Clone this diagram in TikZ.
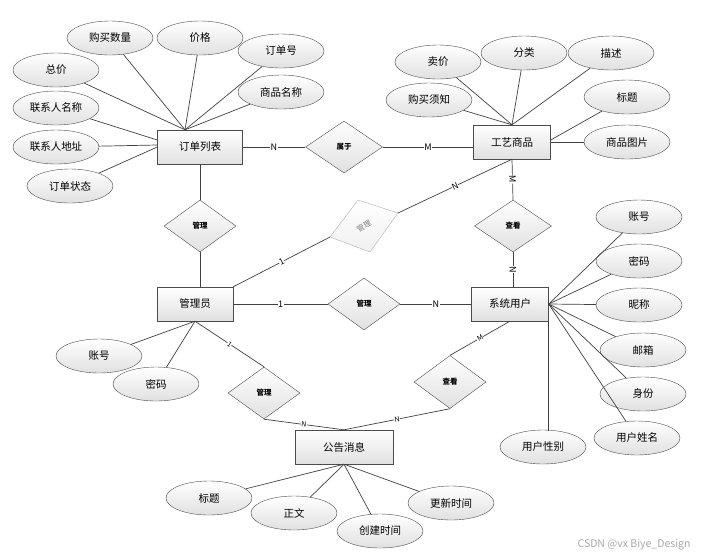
\documentclass[tikz,border=0pt]{standalone}
\usepackage{fontspec}
\setmainfont{Noto Sans CJK SC}
\usetikzlibrary{shapes.geometric}
\tikzset{
  ent/.style={draw=black!70, rectangle, top color=white, bottom color=black!12, minimum width=77pt, minimum height=34pt, inner sep=0pt, font=\fontsize{10.5}{12}\selectfont},
  attr/.style={draw=black!70, ellipse, top color=white, bottom color=black!12, minimum width=86pt, minimum height=34pt, inner sep=0pt, font=\fontsize{10.5}{12}\selectfont},
  rel/.style={draw=black!70, diamond, top color=white, bottom color=black!12, minimum width=72pt, minimum height=52pt, inner sep=0pt, font=\fontsize{7.5}{9}\selectfont\bfseries},
  ln/.style={draw=black!75, line width=0.7pt},
  card/.style={font=\fontsize{9}{10}\selectfont, inner sep=0.5pt, fill=white},
  smallcard/.style={font=\fontsize{7}{8}\selectfont, inner sep=0.3pt, fill=white, sloped}
}
\begin{document}
\begin{tikzpicture}[x=1pt, y=-1pt]
    \useasboundingbox (0,0) rectangle (710,558);

    % entities
    \node[ent, minimum width=85pt] (ddlb) at (200,147) {订单列表};
    \node[ent] (gysp) at (512,142) {工艺商品};
    \node[ent, minimum width=76pt] (gly) at (195,304) {管理员};
    \node[ent] (xtyh) at (510,304) {系统用户};
    \node[ent, minimum width=98pt] (ggxx) at (344,447) {公告消息};

    % relations
    \node[rel, minimum width=77pt] (sy) at (344,147) {属于};
    \node[rel] (gl1) at (200,226) {管理};
    \node[rel, minimum width=77pt] (ck1) at (513,226) {查看};
    \node[rel] (gl2) at (364,304) {管理};
    \node[rel] (gl3) at (264,393) {管理};
    \node[rel, minimum height=53pt] (ck2) at (450,382) {查看};

    % skewed grey diamond
    \coordinate (gl4n) at (358,200);
    \coordinate (gl4e) at (398,213);
    \coordinate (gl4s) at (370,252);
    \coordinate (gl4w) at (330,237);
    \draw[draw=black!30, top color=white, bottom color=black!6] (gl4n) -- (gl4e) -- (gl4s) -- (gl4w) -- cycle;
    \node[rotate=30, inner sep=0pt, text=black!50, font=\fontsize{7.5}{9}\selectfont] (gl4) at (364,226) {管理};

    % attributes of 订单列表
    \node[attr] (gmsl) at (110,38) {购买数量};
    \node[attr] (jg) at (200,38) {价格};
    \node[attr] (ddh) at (281,51) {订单号};
    \node[attr] (zj) at (56,70) {总价};
    \node[attr] (spmc) at (281,92) {商品名称};
    \node[attr] (lxrmc) at (56,108) {联系人名称};
    \node[attr] (lxrdz) at (56,147) {联系人地址};
    \node[attr] (ddzt) at (70,186) {订单状态};

    % attributes of 工艺商品
    \node[attr] (mj) at (438,62) {卖价};
    \node[attr] (fl) at (524,53) {分类};
    \node[attr] (ms) at (611,53) {描述};
    \node[attr] (gmxz) at (429,100) {购买须知};
    \node[attr] (bt) at (627,97) {标题};
    \node[attr] (sptp) at (627,142) {商品图片};

    % attributes of 系统用户
    \node[attr] (yhzh) at (639,217) {账号};
    \node[attr] (yhmm) at (639,261) {密码};
    \node[attr] (nc) at (639,305) {昵称};
    \node[attr] (yx) at (643,350) {邮箱};
    \node[attr] (sf) at (643,394) {身份};
    \node[attr] (yhxm) at (637,438) {用户姓名};
    \node[attr] (yhxb) at (543,447) {用户性别};

    % attributes of 管理员
    \node[attr] (glzh) at (99,356) {账号};
    \node[attr] (glmm) at (156,384) {密码};

    % attributes of 公告消息
    \node[attr] (ggbt) at (209,498) {标题};
    \node[attr] (zw) at (294,513) {正文};
    \node[attr] (cjsj) at (380,531) {创建时间};
    \node[attr] (gxsj) at (451,503) {更新时间};

    % attribute lines
    \coordinate (ddtop) at ([xshift=-15pt]ddlb.north);
    \draw[ln] (gmsl) -- (ddtop);
    \draw[ln] (jg) -- (ddtop);
    \draw[ln] (ddh) -- (ddtop);
    \draw[ln] (spmc) -- (ddtop);
    \draw[ln] (zj) -- (ddtop);
    \draw[ln] (lxrmc) -- ([yshift=7pt]ddlb.west);
    \draw[ln] (lxrdz) -- ([yshift=2pt]ddlb.west);
    \draw[ln] (ddzt) -- (ddlb.west);

    \draw[ln] (mj) -- (gysp.north);
    \draw[ln] (fl) -- (gysp.north);
    \draw[ln] (ms) -- (gysp.north);
    \draw[ln] (gmxz) -- (gysp.north);
    \draw[ln] (bt) -- ([yshift=2pt]gysp.east);
    \draw[ln] (sptp) -- (gysp.east);

    \draw[ln] (yhzh) -- (xtyh.east);
    \draw[ln] (yhmm) -- (xtyh.east);
    \draw[ln] (nc) -- (xtyh.east);
    \draw[ln] (yx) -- (xtyh.east);
    \draw[ln] (sf) -- (xtyh.east);
    \draw[ln] (yhxm) -- (xtyh.east);
    \draw[ln] (xtyh.south east) -- ([yshift=-1pt]xtyh.south east |- yhxb.north);

    \draw[ln] (glzh) -- (gly.south);
    \draw[ln] (glmm) -- (gly.south);

    \draw[ln] (ggbt) -- (ggxx.south);
    \draw[ln] (zw) -- (ggxx.south);
    \draw[ln] (cjsj) -- (ggxx.south);
    \draw[ln] (gxsj) -- (ggxx.south);

    % relation lines
    \draw[ln] (ddlb.east) -- node[card]{N} (sy.west);
    \draw[ln] (sy.east) -- node[card]{M} (sy.east -| gysp.west);
    \draw[ln] (ddlb.south) -- (gl1.north);
    \draw[ln] (gl1.south) -- (gl1.south |- gly.north);
    \draw[ln] (gly.north east) -- node[smallcard, font=\fontsize{8.5}{9}\selectfont]{1} (gl4w);
    \draw[ln] (gl4e) -- node[smallcard, font=\fontsize{8.5}{9}\selectfont]{N} (gysp.south);
    \draw[ln] (gysp.south) -- node[card, sloped]{M} (ck1.north);
    \draw[ln] (ck1.south) -- node[card, sloped]{N} (ck1.south |- xtyh.north);
    \draw[ln] (gly.east) -- node[card]{1} (gl2.west);
    \draw[ln] (gl2.east) -- node[card]{N} (xtyh.west);
    \draw[ln] (gly.south) -- node[smallcard]{1} (gl3.north);
    \draw[ln] (gl3.south) -- node[smallcard]{N} (ggxx.north);
    \draw[ln] (xtyh.south) -- node[smallcard]{M} (ck2.north);
    \draw[ln] (ck2.south) -- node[smallcard]{N} (ggxx.north);

    % watermark
    \node[text=black!35, font=\fontsize{10.5}{12}\selectfont, anchor=east] (wm) at (694,545) {CSDN @vx Biye\_Design};
\end{tikzpicture}
\end{document}
